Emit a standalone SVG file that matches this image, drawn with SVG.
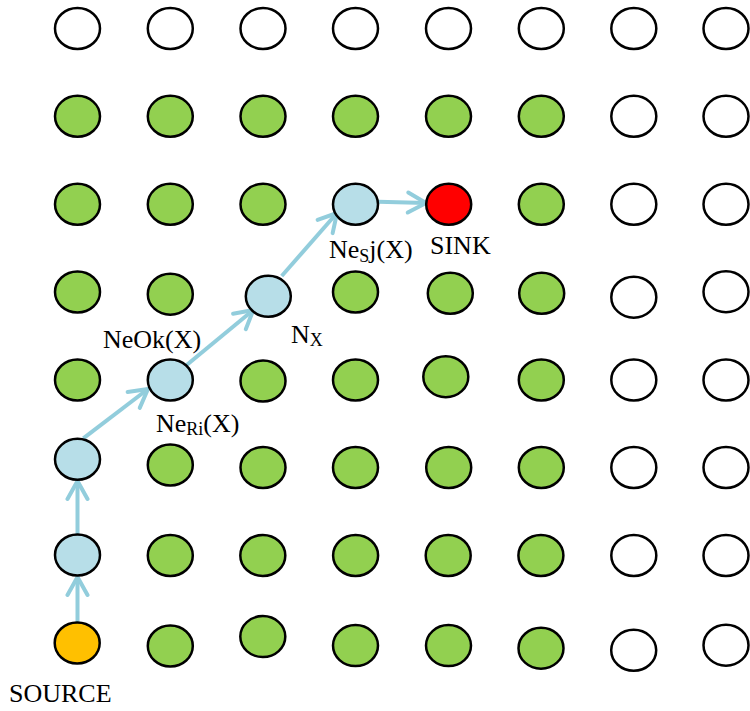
<svg xmlns="http://www.w3.org/2000/svg" width="750" height="711" viewBox="0 0 750 711">
<style>
ellipse{stroke:#000;stroke-width:2.5}
.w{fill:#fff}.g{fill:#92D050}.b{fill:#B7DEE8}.r{fill:#FF0000}.o{fill:#FFC000}
text{font-family:"Liberation Serif","Times New Roman",serif;font-size:26px;fill:#000}
.sub{font-size:18px}
.c{stroke:#92CDDC;stroke-width:4;fill:none}
</style>
<defs>
<marker id="ah" markerUnits="userSpaceOnUse" markerWidth="26" markerHeight="26" viewBox="0 0 26 26" refX="22" refY="13" orient="auto">
<path d="M4,3 L22,13 L4,23" fill="none" stroke="#92CDDC" stroke-width="4" stroke-linecap="round" stroke-linejoin="round"/>
</marker>
</defs>
<rect width="750" height="711" fill="#fff"/>
<g id="connectors">
<line class="c" x1="77.5" y1="622" x2="77.5" y2="577" marker-end="url(#ah)"/>
<line class="c" x1="77.5" y1="534" x2="77.5" y2="481" marker-end="url(#ah)"/>
<line class="c" x1="83.3" y1="438.3" x2="148" y2="389" marker-end="url(#ah)"/>
<line class="c" x1="186.7" y1="365" x2="253.3" y2="310" marker-end="url(#ah)"/>
<line class="c" x1="281.7" y1="276" x2="337" y2="213" marker-end="url(#ah)"/>
<line class="c" x1="378" y1="201.7" x2="426" y2="203" marker-end="url(#ah)"/>
</g>
<!-- row 0 -->
<g id="n0-0"><ellipse class="w" cx="77.5" cy="28.5" rx="22.5" ry="20.5"/></g>
<g id="n0-1"><ellipse class="w" cx="170.3" cy="28.5" rx="22.5" ry="20.5"/></g>
<g id="n0-2"><ellipse class="w" cx="263" cy="28.5" rx="22.5" ry="20.5"/></g>
<g id="n0-3"><ellipse class="w" cx="355.5" cy="28.5" rx="22.5" ry="20.5"/></g>
<g id="n0-4"><ellipse class="w" cx="448.5" cy="28.5" rx="22.5" ry="20.5"/></g>
<g id="n0-5"><ellipse class="w" cx="541.3" cy="28.5" rx="22.5" ry="20.5"/></g>
<g id="n0-6"><ellipse class="w" cx="633.8" cy="28.5" rx="22.5" ry="20.5"/></g>
<g id="n0-7"><ellipse class="w" cx="726" cy="28.5" rx="22.5" ry="20.5"/></g>
<!-- row 1 -->
<g id="n1-0"><ellipse class="g" cx="77.5" cy="116.3" rx="22.5" ry="20.5"/></g>
<g id="n1-1"><ellipse class="g" cx="170.3" cy="116.3" rx="22.5" ry="20.5"/></g>
<g id="n1-2"><ellipse class="g" cx="263" cy="116.3" rx="22.5" ry="20.5"/></g>
<g id="n1-3"><ellipse class="g" cx="355.5" cy="116.3" rx="22.5" ry="20.5"/></g>
<g id="n1-4"><ellipse class="g" cx="448.5" cy="116.3" rx="22.5" ry="20.5"/></g>
<g id="n1-5"><ellipse class="g" cx="541.3" cy="116.3" rx="22.5" ry="20.5"/></g>
<g id="n1-6"><ellipse class="w" cx="633.8" cy="116.3" rx="22.5" ry="20.5"/></g>
<g id="n1-7"><ellipse class="w" cx="726" cy="116.3" rx="22.5" ry="20.5"/></g>
<!-- row 2 -->
<g id="n2-0"><ellipse class="g" cx="77.5" cy="204.3" rx="22.5" ry="20.5"/></g>
<g id="n2-1"><ellipse class="g" cx="170.3" cy="204.3" rx="22.5" ry="20.5"/></g>
<g id="n2-2"><ellipse class="g" cx="263" cy="204.3" rx="22.5" ry="20.5"/></g>
<g id="nesj"><ellipse class="b" cx="355.5" cy="204.3" rx="22.5" ry="20.5"/>
<text x="329" y="258">Ne<tspan class="sub" dy="4">S</tspan><tspan dy="-4">j(X)</tspan></text></g>
<g id="sink"><ellipse class="r" cx="448.7" cy="204.3" rx="22.5" ry="20.5"/>
<text x="430" y="254">SINK</text></g>
<g id="n2-5"><ellipse class="g" cx="541.3" cy="204.3" rx="22.5" ry="20.5"/></g>
<g id="n2-6"><ellipse class="w" cx="633.8" cy="204.3" rx="22.5" ry="20.5"/></g>
<g id="n2-7"><ellipse class="w" cx="726" cy="204.3" rx="22.5" ry="20.5"/></g>
<!-- row 3 -->
<g id="n3-0"><ellipse class="g" cx="77.5" cy="292" rx="22.5" ry="20.5"/></g>
<g id="n3-1"><ellipse class="g" cx="170.3" cy="294.2" rx="22.5" ry="20.5"/></g>
<g id="nx"><ellipse class="b" cx="268.3" cy="296.3" rx="22.5" ry="20.5"/>
<text x="291" y="343">N<tspan class="sub" dy="3">X</tspan></text></g>
<g id="n3-3"><ellipse class="g" cx="355.5" cy="292" rx="22.5" ry="20.5"/></g>
<g id="n3-4"><ellipse class="g" cx="450.3" cy="293.3" rx="22.5" ry="20.5"/></g>
<g id="n3-5"><ellipse class="g" cx="541.7" cy="293.3" rx="22.5" ry="20.5"/></g>
<g id="n3-6"><ellipse class="w" cx="633.8" cy="297.2" rx="22.5" ry="20.5"/></g>
<g id="n3-7"><ellipse class="w" cx="726" cy="291.7" rx="22.5" ry="20.5"/></g>
<!-- row 4 -->
<g id="n4-0"><ellipse class="g" cx="77.5" cy="380" rx="22.5" ry="20.5"/></g>
<g id="neri"><ellipse class="b" cx="170.3" cy="380" rx="22.5" ry="20.5"/>
<text x="103" y="348">NeOk(X)</text>
<text x="156" y="432">Ne<tspan class="sub" dy="3">Ri</tspan><tspan dy="-3">(X)</tspan></text></g>
<g id="n4-2"><ellipse class="g" cx="263" cy="381" rx="22.5" ry="20.5"/></g>
<g id="n4-3"><ellipse class="g" cx="355.5" cy="380" rx="22.5" ry="20.5"/></g>
<g id="n4-4"><ellipse class="g" cx="445.8" cy="376.7" rx="22.5" ry="20.5"/></g>
<g id="n4-5"><ellipse class="g" cx="541.3" cy="380" rx="22.5" ry="20.5"/></g>
<g id="n4-6"><ellipse class="w" cx="633.8" cy="380" rx="22.5" ry="20.5"/></g>
<g id="n4-7"><ellipse class="w" cx="726" cy="380" rx="22.5" ry="20.5"/></g>
<!-- row 5 -->
<g id="n5-0"><ellipse class="b" cx="77.5" cy="459.3" rx="22.5" ry="20.5"/></g>
<g id="n5-1"><ellipse class="g" cx="170.3" cy="465" rx="22.5" ry="20.5"/></g>
<g id="n5-2"><ellipse class="g" cx="263" cy="467.5" rx="22.5" ry="20.5"/></g>
<g id="n5-3"><ellipse class="g" cx="355.5" cy="467.5" rx="22.5" ry="20.5"/></g>
<g id="n5-4"><ellipse class="g" cx="448.7" cy="467.5" rx="22.5" ry="20.5"/></g>
<g id="n5-5"><ellipse class="g" cx="541.3" cy="467.5" rx="22.5" ry="20.5"/></g>
<g id="n5-6"><ellipse class="w" cx="633.8" cy="467.5" rx="22.5" ry="20.5"/></g>
<g id="n5-7"><ellipse class="w" cx="726" cy="467.5" rx="22.5" ry="20.5"/></g>
<!-- row 6 -->
<g id="n6-0"><ellipse class="b" cx="77.5" cy="555" rx="22.5" ry="20.5"/></g>
<g id="n6-1"><ellipse class="g" cx="170.3" cy="555.5" rx="22.5" ry="20.5"/></g>
<g id="n6-2"><ellipse class="g" cx="262.8" cy="555.5" rx="22.5" ry="20.5"/></g>
<g id="n6-3"><ellipse class="g" cx="355.6" cy="555.5" rx="22.5" ry="20.5"/></g>
<g id="n6-4"><ellipse class="g" cx="448.2" cy="555.5" rx="22.5" ry="20.5"/></g>
<g id="n6-5"><ellipse class="g" cx="540.9" cy="555.5" rx="22.5" ry="20.5"/></g>
<g id="n6-6"><ellipse class="w" cx="633.8" cy="555.5" rx="22.5" ry="20.5"/></g>
<g id="n6-7"><ellipse class="w" cx="726" cy="555.5" rx="22.5" ry="20.5"/></g>
<!-- row 7 -->
<g id="source"><ellipse class="o" cx="77.2" cy="643" rx="22.5" ry="20.5"/>
<text x="9" y="702">SOURCE</text></g>
<g id="n7-1"><ellipse class="g" cx="170.3" cy="646" rx="22.5" ry="20.5"/></g>
<g id="n7-2"><ellipse class="g" cx="262.8" cy="636.6" rx="22.5" ry="20.5"/></g>
<g id="n7-3"><ellipse class="g" cx="355.5" cy="645.6" rx="22.5" ry="20.5"/></g>
<g id="n7-4"><ellipse class="g" cx="448.5" cy="645.6" rx="22.5" ry="20.5"/></g>
<g id="n7-5"><ellipse class="g" cx="541" cy="648.2" rx="22.5" ry="20.5"/></g>
<g id="n7-6"><ellipse class="w" cx="633.7" cy="650.3" rx="22.5" ry="20.5"/></g>
<g id="n7-7"><ellipse class="w" cx="726" cy="645.2" rx="22.5" ry="20.5"/></g>
</svg>
